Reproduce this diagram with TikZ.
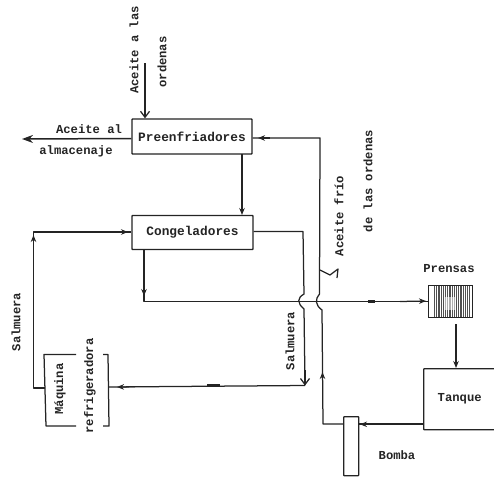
\documentclass[tikz,border=0pt]{standalone}
\usepackage{fontspec}
\setmainfont{Liberation Mono}[BoldFont={Liberation Mono Bold}]
\usetikzlibrary{arrows.meta}
\definecolor{ink}{gray}{0.14}
\tikzset{
  x=1pt,y=-1pt,
  flow/.style={draw=ink,line width=1.25pt,line join=round},
  tip/.style={flow,-{Stealth[length=7pt,width=5.5pt]}},
  barb/.style={flow,-{Straight Barb[length=6pt,width=9pt]}},
  unit/.style={draw=ink,line width=1.35pt,fill=white,rounded corners=0.6pt,inner sep=0pt},
  lab/.style={text=ink,font=\bfseries\fontsize{12.2}{13}\selectfont,inner sep=0pt},
  vlab/.style={lab,rotate=90}
}
\begin{document}
\begin{tikzpicture}
\useasboundingbox (0,0) rectangle (494,477);
% equipment
\node[unit,lab,minimum width=120pt,minimum height=35pt] (pre) at (192,136.5) {\fontsize{12.8}{13}\selectfont Preenfriadores\hspace{5pt}};
\node[unit,lab,minimum width=121pt,minimum height=34pt] (con) at (192.5,232.5) {\fontsize{12.8}{13}\selectfont Congeladores\hspace{4pt}};
\node[unit,lab,minimum width=72pt,minimum height=61pt,anchor=north west] (tan) at (423,368) {Tanque};
\node[unit,minimum width=15pt,minimum height=59pt,anchor=north west] (bom) at (343,416) {};
\node[draw=ink,line width=1.1pt,fill=white,inner sep=0pt,minimum width=44pt,minimum height=32pt,anchor=north west,
  path picture={\foreach \i in {0,...,16}{\draw[ink!80,line width=1.2pt] (-16+\i*2.2,-16) -- (-16+\i*2.2,16);}
  \fill[white,opacity=0.55] (-6,-5) rectangle (5,8);}] (pren) at (428,285) {};
% refrigerating machine, open box
\coordinate (mqnw) at (76,354.5); \coordinate (mqsw) at (76,426);
\coordinate (mqne) at (103,354.5); \coordinate (mqse) at (103,426);
\draw[flow] (mqnw) -- (44,354.5) -- (46,426) -- (mqsw);
\draw[flow] (mqne) -- (108,354.5) -- (109,426) -- (mqse);
\node[vlab] (mq1) at (60,389) {Máquina};
\node[vlab] (mq2) at (90,386) {refrigeradora};
\coordinate (mql) at (45,388); \coordinate (mqr) at (108.5,387);
% process lines
\coordinate (ain) at (145,63);
\coordinate (aout) at (22,139);
\draw[barb] (ain) -- (ain |- pre.north);
\draw[flow,line width=1.5pt,-{Stealth[length=11pt,width=8pt]}] (pre.west |- 0,138.5) -- (aout);
\draw[tip] (242,154) -- (242,215);
\coordinate (ret) at (320,138);
\coordinate (mainstart) at (144,250);
% main line to presses
\draw[flow] (mainstart) -- (144,301.5) -- (pren.west |- 0,301.5);
\draw[tip] (144,285) -- (144,296);
\draw[tip] (400,301.5) -- (426,301);
\fill[ink] (368,299.7) rectangle (375,303);
% brine out, with crossing
\draw[flow] (con.east |- 0,231.5) -- (303,231.5) -- (304,294)
  .. controls (297,298) and (297,303) .. (304,309) -- (305,385);
\draw[barb] (305,370) -- (305,385.5);
\draw[flow] (305,385.5) -- (mqr);
\draw[tip] (135,386.8) -- (117,387);
\fill[ink] (207,384.3) rectangle (220,386.6);
% brine to congeladores
\draw[flow] (mql) -- (33.5,388) -- (33.5,232) -- (con.west |- 0,232);
\draw[tip] (115,232) -- (128,232);
\draw[tip] (33.5,245) -- (33.5,235);
% cold oil return
\draw[flow] (bom.west |- 0,424) -- (323,424) -- (322,310)
  .. controls (315,305) and (315,299) .. (319.5,294) -- (320,138) -- (pre.east |- 0,138);
\draw[tip] (322.5,385) -- (322.5,372);
\draw[tip] (270,138) -- (258,138);
\draw[flow] (320,270) -- (330,275) -- (338,269) -- (337,278);
% tank, pump, press
\draw[tip] (456,324) -- (tan.north -| 456,0);
\draw[flow] (tan.west |- 0,424) -- (bom.east |- 0,424);
\draw[tip] (372,424.3) -- (360,424.3);
% labels
\node[vlab] (l1) at (134,50) {Aceite a las};
\node[vlab] (l2) at (162,62) {ordenas};
\node[lab] (l3) at (89,129) {Aceite al};
\node[lab] (l4) at (76,151) {almacenaje};
\node[vlab] (l5) at (339,216) {Aceite frío};
\node[vlab] (l6) at (368,181) {de las ordenas};
\node[vlab] (l7) at (16,322) {Salmuera};
\node[vlab] (l8) at (290,341) {Salmuera};
\node[lab] (l9) at (449,269) {Prensas};
\node[lab] (l10) at (397,455) {Bomba};
\end{tikzpicture}
\end{document}
